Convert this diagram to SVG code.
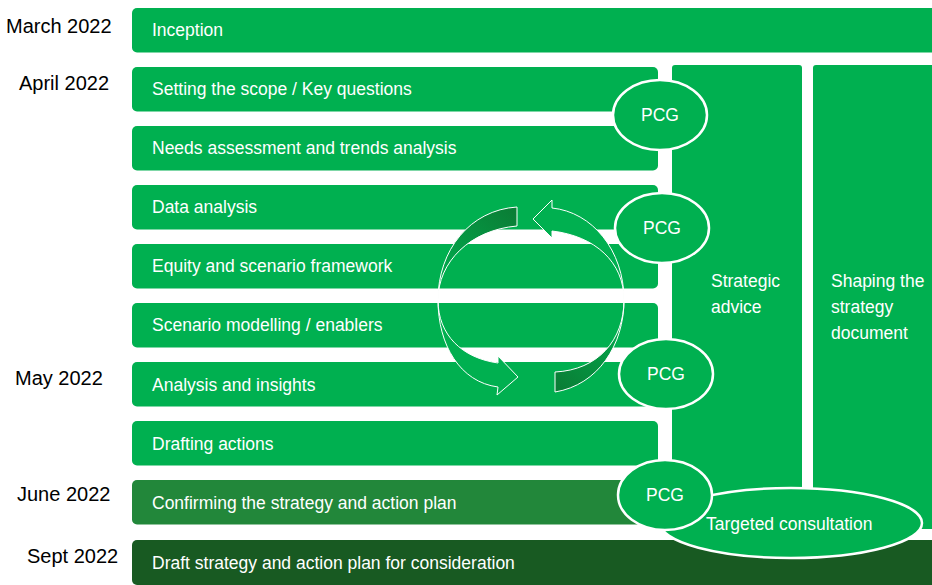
<svg xmlns="http://www.w3.org/2000/svg" width="932" height="585" viewBox="0 0 932 585">
<style>
.bar{fill:#00B050}
.bar2{fill:#22873A}
.bar3{fill:#185A22}
.t{font-family:"Liberation Sans",Arial,sans-serif;font-size:17.5px;fill:#FFFFFF}
.d{font-family:"Liberation Sans",Arial,sans-serif;font-size:20px;fill:#000000}
.pcg{fill:#00B050;stroke:#FFFFFF;stroke-width:2.5}
.arr{stroke:#FFFFFF;stroke-width:1;stroke-linejoin:miter}
</style>
<defs>
<linearGradient id="gL" gradientUnits="userSpaceOnUse" x1="517" y1="215" x2="442" y2="296">
<stop offset="0" stop-color="#0A7E36"/><stop offset="1" stop-color="#00B050"/>
</linearGradient>
<linearGradient id="gR" gradientUnits="userSpaceOnUse" x1="555" y1="384" x2="621" y2="304">
<stop offset="0" stop-color="#0A7E36"/><stop offset="1" stop-color="#00B050"/>
</linearGradient>
</defs>
<rect width="932" height="585" fill="#FFFFFF"/>
<g id="dates">
<text class="d" x="6" y="33">March 2022</text>
<text class="d" x="19" y="90">April 2022</text>
<text class="d" x="15" y="385">May 2022</text>
<text class="d" x="17" y="501">June 2022</text>
<text class="d" x="27" y="563">Sept 2022</text>
</g>
<g id="row-inception"><rect class="bar" x="132" y="8" width="812" height="44.5" rx="5"/><text class="t" x="152" y="36">Inception</text></g>
<g id="row-scope"><rect class="bar" x="132" y="67" width="526" height="44.5" rx="5"/><text class="t" x="152" y="95">Setting the scope / Key questions</text></g>
<g id="row-needs"><rect class="bar" x="132" y="126" width="526" height="44.5" rx="5"/><text class="t" x="152" y="154">Needs assessment and trends analysis</text></g>
<g id="row-data"><rect class="bar" x="132" y="185" width="526" height="44.5" rx="5"/><text class="t" x="152" y="213">Data analysis</text></g>
<g id="row-equity"><rect class="bar" x="132" y="244" width="526" height="44.5" rx="5"/><text class="t" x="152" y="272">Equity and scenario framework</text></g>
<g id="row-scenario"><rect class="bar" x="132" y="303" width="526" height="44.5" rx="5"/><text class="t" x="152" y="331">Scenario modelling / enablers</text></g>
<g id="row-analysis"><rect class="bar" x="132" y="362" width="526" height="44.5" rx="5"/><text class="t" x="152" y="391">Analysis and insights</text></g>
<g id="row-drafting"><rect class="bar" x="132" y="421" width="526" height="44.5" rx="5"/><text class="t" x="152" y="450">Drafting actions</text></g>
<g id="row-confirming"><rect class="bar2" x="132" y="480" width="526" height="44.5" rx="5"/><text class="t" x="152" y="509">Confirming the strategy and action plan</text></g>
<g id="row-draft"><rect class="bar3" x="132" y="540" width="812" height="45" rx="5"/><text class="t" x="152" y="569">Draft strategy and action plan for consideration</text></g>
<g id="col-strategic"><rect class="bar" x="672" y="65" width="130" height="464" rx="3"/><text class="t" x="711" y="287">Strategic</text><text class="t" x="711" y="313">advice</text></g>
<g id="col-shaping"><rect class="bar" x="813" y="65" width="130" height="464" rx="3"/><text class="t" x="831" y="287">Shaping the</text><text class="t" x="831" y="313">strategy</text><text class="t" x="831" y="339">document</text></g>
<g id="connectors">
<path class="arr" fill="url(#gL)" d="M 517 207 C 470 210 438 250 438 300 C 438 335 462 358 498 363 L 498 356 L 518 377 L 497 395 L 498 387 C 460 382 438 345 438 300 C 438 262 470 230 517 226 Z"/>
<path class="arr" fill="url(#gR)" d="M 555 392 C 598 385 624 345 624 300 C 624 262 595 236 552 231 L 552 238 L 533 219 L 552 200 L 552 208 C 592 212 624 250 624 300 C 624 340 598 370 555 372 Z"/>
</g>
<g id="pcg1"><ellipse class="pcg" cx="660" cy="115" rx="47" ry="35"/><text class="t" x="660" y="121" text-anchor="middle">PCG</text></g>
<g id="pcg2"><ellipse class="pcg" cx="662" cy="228" rx="47" ry="35"/><text class="t" x="662" y="234" text-anchor="middle">PCG</text></g>
<g id="pcg3"><ellipse class="pcg" cx="666" cy="374" rx="47" ry="35"/><text class="t" x="666" y="380" text-anchor="middle">PCG</text></g>
<g id="targeted"><ellipse class="pcg" cx="791" cy="523" rx="131" ry="35"/><text class="t" x="706" y="530">Targeted consultation</text></g>
<g id="pcg4"><ellipse class="pcg" cx="665" cy="495" rx="47" ry="35"/><text class="t" x="665" y="501" text-anchor="middle">PCG</text></g>
</svg>
